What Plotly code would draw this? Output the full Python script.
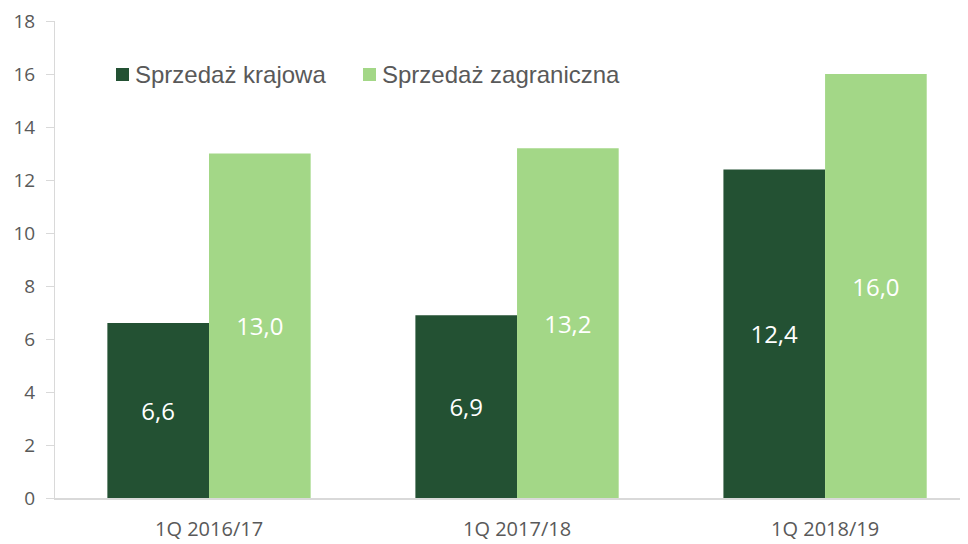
import plotly.graph_objects as go

categories = ["1Q 2016/17", "1Q 2017/18", "1Q 2018/19"]
krajowa = [6.6, 6.9, 12.4]
zagraniczna = [13.0, 13.2, 16.0]
series_names = ["Sprzedaż krajowa", "Sprzedaż zagraniczna"]
series_colors = ["#235133", "#a3d787"]
y_ticks = [0, 2, 4, 6, 8, 10, 12, 14, 16, 18]

W, H = 960, 536
L, R, T, B = 47, 0, 13, 46
PW, PH = W - L - R, H - T - B

fig = go.Figure()
for name, vals, col in zip(series_names, [krajowa, zagraniczna], series_colors):
    fig.add_trace(go.Bar(
        x=categories, y=vals, name=name,
        marker=dict(color=col, line=dict(width=0)),
        texttemplate="%{y:.1f}", textposition="inside",
        insidetextanchor="middle",
        textfont=dict(color="white", size=24, family="Open Sans"),
        showlegend=False,
    ))

# manual legend (pixel positions within the figure)
def px(x):
    return (x - L) / PW

def py(y):
    return (H - B - y) / PH

legend_items = [(108, series_names[0], series_colors[0]),
                (355, series_names[1], series_colors[1])]
for x0, name, col in legend_items:
    fig.add_shape(type="rect", xref="paper", yref="paper",
                  x0=px(x0), x1=px(x0 + 13), y0=py(60), y1=py(73),
                  fillcolor=col, line=dict(width=0), layer="above")
    fig.add_annotation(xref="paper", yref="paper", x=px(x0 + 17), y=py(66.5),
                       text=name, showarrow=False, xanchor="left", yanchor="middle",
                       font=dict(family="Liberation Sans, Arial", size=24, color="#595959"))

fig.update_layout(
    width=W, height=H,
    margin=dict(l=L, r=R, t=T, b=B, autoexpand=False),
    plot_bgcolor="white", paper_bgcolor="white",
    barmode="group", bargap=0.34, bargroupgap=0,
    separators=", ",
    showlegend=False,
    xaxis=dict(type="category", range=[-0.5, 2.464],
               showline=True, linecolor="#d9d9d9", linewidth=2,
               ticks="", tickfont=dict(family="Open Sans", size=20, color="#595959"),
               ticklabelstandoff=12, showgrid=False),
    yaxis=dict(range=[0, 18], tickvals=y_ticks, showgrid=False,
               showline=True, linecolor="#d9d9d9", linewidth=1,
               ticks="outside", ticklen=8, tickcolor="#d9d9d9",
               tickfont=dict(family="Open Sans", size=19, color="#595959"),
               ticklabelstandoff=7, ticklabeloverflow="allow", zeroline=False),
)

fig.write_html("out.html")
